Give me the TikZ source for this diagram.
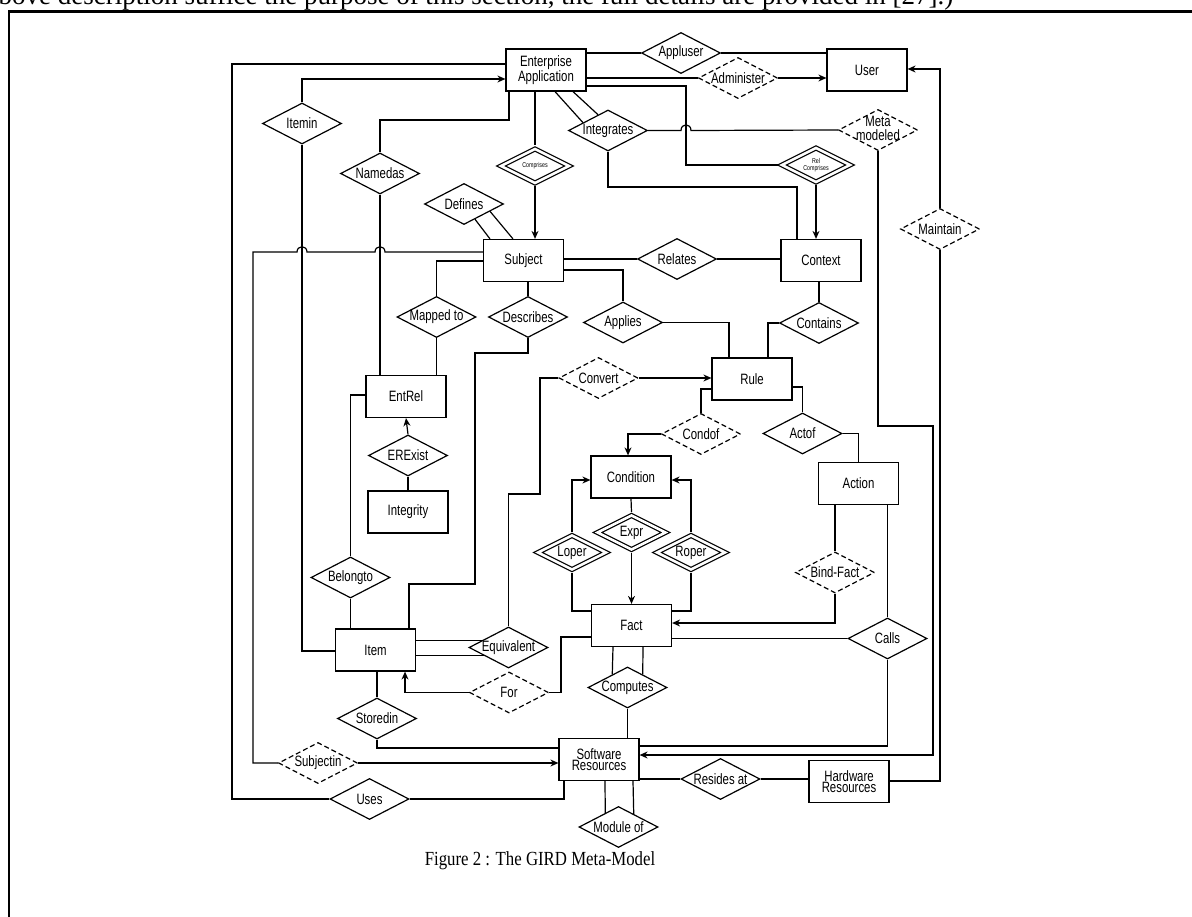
\documentclass[tikz,border=0pt]{standalone}
\usepackage{fontspec}
\usetikzlibrary{shapes.geometric,arrows.meta,calc}
\newfontfamily\dfont[FakeStretch=0.76]{Liberation Sans}
\newfontfamily\cfont[FakeStretch=0.84]{Liberation Serif}
\newfontfamily\tfont{Liberation Serif}
\newcommand\zc[1]{\makebox[0pt]{#1}}
\newcommand\zt[1]{\makebox[0pt]{\begin{tabular}{@{}c@{}}#1\end{tabular}}}
\begin{document}
\begin{tikzpicture}[x=1pt,y=-1pt,line width=1.2pt,
  ent/.style={draw,rectangle,minimum width=80pt,minimum height=42pt,inner sep=0pt,align=center,font=\dfont\fontsize{15}{13}\selectfont},
  rel/.style={draw,diamond,minimum width=79pt,minimum height=41pt,inner sep=0pt,font=\dfont\fontsize{15}{12}\selectfont},
  drel/.style={rel,dash pattern=on 5pt off 3pt},
  wrel/.style={rel,double,double distance=2.6pt,minimum width=70pt,minimum height=36pt,outer sep=2.5pt},
  tiny/.style={font=\dfont\fontsize{7}{6}\selectfont},
  arr/.style={-{Stealth[length=8pt,width=7pt]}}]
\path[use as bounding box] (0,0) rectangle (1192,917);
\clip (0,0) rectangle (1192,917);
% page elements
\node[anchor=base west,inner sep=0pt,font=\tfont\fontsize{27}{27}\selectfont] (toptext) at (-2,5) {bove description suffice the purpose of this section, the full details are provided in [27].)};
\draw[line width=2.5pt] (8,11.5) -- (1192,11.5);
\draw[line width=2pt] (9,11.5) -- (9,917);
\node[anchor=base,inner sep=0pt,font=\cfont\fontsize{20}{20}\selectfont] (caption) at (540,865) {Figure 2 : The GIRD Meta-Model};
% entities
\node[ent] (EA) at (546,70) {Enterprise\\Application};
\node[ent] (User) at (867,70) {User};
\node[ent] (Subject) at (523.5,260.5) {Subject};
\node[ent] (Context) at (821,260.5) {Context};
\node[ent] (EntRel) at (406,396.5) {EntRel};
\node[ent] (Rule) at (752,379) {Rule};
\node[ent] (Integrity) at (408,512) {Integrity};
\node[ent] (Condition) at (631,477) {Condition};
\node[ent] (Action) at (858.5,483.5) {Action};
\node[ent] (Item) at (375.5,650) {Item};
\node[ent] (Fact) at (631.5,625.5) {Fact};
\node[ent,font=\dfont\fontsize{15}{11}\selectfont] (SR) at (599,759.5) {Software\\Resources};
\node[ent,font=\dfont\fontsize{15}{11}\selectfont] (HR) at (849,781.5) {Hardware\\Resources};
% relationships
\node[rel] (Appluser) at (681,53) {\zc{Appluser}};
\node[drel] (Administer) at (738,78) {\zc{Administer}};
\node[rel] (Itemin) at (302,123.5) {\zc{Itemin}};
\node[rel] (Namedas) at (380,173.5) {\zc{Namedas}};
\node[wrel,tiny] (Comp) at (535,166) {\zc{Comprises}};
\node[rel] (Integrates) at (608,130.5) {\zc{Integrates}};
\node[drel] (Metamod) at (878,130) {\zt{Meta\\modeled}};
\node[wrel,tiny] (RelComp) at (816,165) {\zt{Rel\\Comprises}};
\node[rel] (Defines) at (464,204) {\zc{Defines}};
\node[drel] (Maintain) at (940,229) {\zc{Maintain}};
\node[rel] (Relates) at (677,259) {\zc{Relates}};
\node[rel] (Mappedto) at (436.5,317) {\zc{Mapped to}};
\node[rel] (Describes) at (528,317) {\zc{Describes}};
\node[rel] (Applies) at (623,322.5) {\zc{Applies}};
\node[rel] (Contains) at (819,323) {\zc{Contains}};
\node[drel] (Convert) at (598.5,378) {\zc{Convert}};
\node[drel] (Condof) at (701,434) {\zc{Condof}};
\node[rel] (Actof) at (802.5,433.5) {\zc{Actof}};
\node[rel] (ERExist) at (408,455.5) {\zc{ERExist}};
\node[wrel] (Expr) at (631.5,532.5) {\zc{Expr}};
\node[wrel] (Loper) at (572,552.5) {\zc{Loper}};
\node[wrel] (Roper) at (691,552.5) {\zc{Roper}};
\node[drel] (BindFact) at (835,572.5) {\zc{Bind-Fact}};
\node[rel] (Belongto) at (350.5,577.5) {\zc{Belongto}};
\node[rel] (Calls) at (887.5,638.5) {\zc{Calls}};
\node[rel] (Equivalent) at (508.5,647.5) {\zc{Equivalent}};
\node[drel] (For) at (509,692.5) {\zc{For}};
\node[rel] (Computes) at (627.5,687.5) {\zc{Computes}};
\node[rel] (Storedin) at (377,718.5) {\zc{Storedin}};
\node[drel] (Subjectin) at (318,763) {\zc{Subjectin}};
\node[rel] (Uses) at (369.5,799) {\zc{Uses}};
\node[rel] (Residesat) at (720.5,779) {\zc{Resides at}};
\node[rel] (Moduleof) at (618.5,827) {\zc{Module of}};
% helper points on diamond edges
\coordinate (df1) at ($(Defines.east)!0.725!(Defines.south)$);
\coordinate (df2) at ($(Defines.east)!0.35!(Defines.south)$);
\coordinate (ig1) at ($(Integrates.west)!0.375!(Integrates.north)$);
\coordinate (ig2) at ($(Integrates.west)!0.75!(Integrates.north)$);
\coordinate (cp1) at ($(Computes.west)!0.62!(Computes.north)$);
\coordinate (cp2) at ($(Computes.east)!0.62!(Computes.north)$);
\coordinate (eq1) at ($(Equivalent.west)!0.34!(Equivalent.north)$);
\coordinate (eq2) at ($(Equivalent.west)!0.39!(Equivalent.south)$);
\coordinate (mo1) at ($(Moduleof.west)!0.67!(Moduleof.north)$);
\coordinate (mo2) at ($(Moduleof.east)!0.62!(Moduleof.north)$);
% connectors
\draw (EA.east|-0,53) -- (Appluser.west);
\draw (Appluser.east) -- (User.west|-0,53);
\draw (EA.east|-0,78) -- (Administer.west);
\draw[arr] (Administer.east) -- (User.west|-0,78);
\draw (EA.west|-0,64) -- (232,64) -- (232,799) -- (Uses.west);
\draw (Uses.east) -| (SR.south-|564,0);
\draw[arr] (Itemin.north) |- (EA.west|-0,79);
\draw (Itemin.south) |- (Item.west|-0,651);
\draw (Namedas.north) |- (509,120) -- (EA.south-|509,0);
\draw (Namedas.south) -- (Namedas.south|-EntRel.north);
\draw (EA.south-|Comp.north) -- (Comp.north);
\draw[arr] (Comp.south) -- (Subject.north-|Comp.south);
\draw (df1) -- (Subject.north-|490,0);
\draw (df2) -- (Subject.north-|513,0);
\draw (EA.south-|555,0) -- (ig1);
\draw (EA.south-|573,0) -- (ig2);
\draw (Integrates.east) -- (681,130.5) .. controls (681,123) and (691,123) .. (691,130.5) -- (Metamod.west);
\draw (Integrates.south) |- (797,187) -- (Context.north-|797,0);
\draw (EA.east|-0,86) -| (686,165) -- (RelComp.west);
\draw[arr] (RelComp.south) -- (Context.north-|RelComp.south);
\draw[arr] (Metamod.south) |- (933,426) -- (933,755) -- (SR.east|-0,755);
\draw[arr] (Maintain.north) |- (User.east|-0,69);
\draw (Maintain.south) |- (HR.east|-0,781);
\draw (Subject.east|-0,259) -- (Relates.west);
\draw (Relates.east) -- (Context.west|-0,259);
\draw (Subject.east|-0,270) -| (Applies.north);
\draw (Applies.east) -| (Rule.north-|729,0);
\draw (Context.south-|Contains.north) -- (Contains.north);
\draw (Contains.west) -| (Rule.north-|768,0);
\draw[arr] (Convert.east) -- (Rule.west|-0,378);
\draw (Convert.west) -- (540,378) -- (540,494) -- (508.5,494) -- (Equivalent.north);
\draw (Rule.west|-0,389) -| (Condof.north);
\draw[arr] (Condof.west) -| (Condition.north-|628,0);
\draw (Rule.east|-0,387) -| (Actof.north);
\draw (Actof.east) -| (Action.north);
\draw (Action.south-|BindFact.north) -- (BindFact.north);
\draw[arr] (BindFact.south) |- (Fact.east|-0,623);
\draw (Action.south-|Calls.north) -- (Calls.north);
\draw (Calls.west) -- (Fact.east|-0,638.5);
\draw (Calls.south) |- (SR.east|-0,746);
\draw (Fact.south-|613,0) -- (cp1);
\draw (Fact.south-|643,0) -- (cp2);
\draw (Computes.south) -- (SR.north-|Computes.south);
\draw (Condition.south) -- (Expr.north);
\draw[arr] (Expr.south) -- (Fact.north);
\draw[arr] (Loper.north) |- (Condition.west|-0,480);
\draw (Loper.south) |- (Fact.west|-0,611);
\draw[arr] (Roper.north) |- (Condition.east|-0,480);
\draw (Roper.south) |- (Fact.east|-0,611);
\draw[arr] (For.west) -| (Item.south-|405,0);
\draw (For.east) -- (561,692.5) -- (561,637) -- (Fact.west|-0,637);
\draw (Item.east|-eq1) -- (eq1);
\draw (Item.east|-eq2) -- (eq2);
\draw (Subject.south-|Describes.north) -- (Describes.north);
\draw (Describes.south) |- (475,353) -- (475,584) -- (409,584) -- (Item.north-|409,0);
\draw (Mappedto.north) |- (Subject.west|-0,261);
\draw (Mappedto.south) -- (EntRel.north-|Mappedto.south);
\draw (Subject.west|-0,252) -- (385,252) .. controls (385,245) and (375,245) .. (375,252) -- (307,252) .. controls (307,245) and (297,245) .. (297,252) -- (253,252) -- (253,763) -- (Subjectin.west);
\draw[arr] (Subjectin.east) -- (SR.west|-0,763);
\draw (EntRel.west|-0,395) -| (Belongto.north);
\draw (Belongto.south) -- (Item.north-|Belongto.south);
\draw[arr] (ERExist.north) -- (EntRel.south);
\draw (ERExist.south) -- (Integrity.north);
\draw (Item.south-|Storedin.north) -- (Storedin.north);
\draw (Storedin.south) |- (SR.west|-0,748);
\draw (SR.east|-0,779) -- (Residesat.west);
\draw (Residesat.east) -- (HR.west|-0,779);
\draw (SR.south-|605,0) -- (mo1);
\draw (SR.south-|633,0) -- (mo2);
\end{tikzpicture}
\end{document}
